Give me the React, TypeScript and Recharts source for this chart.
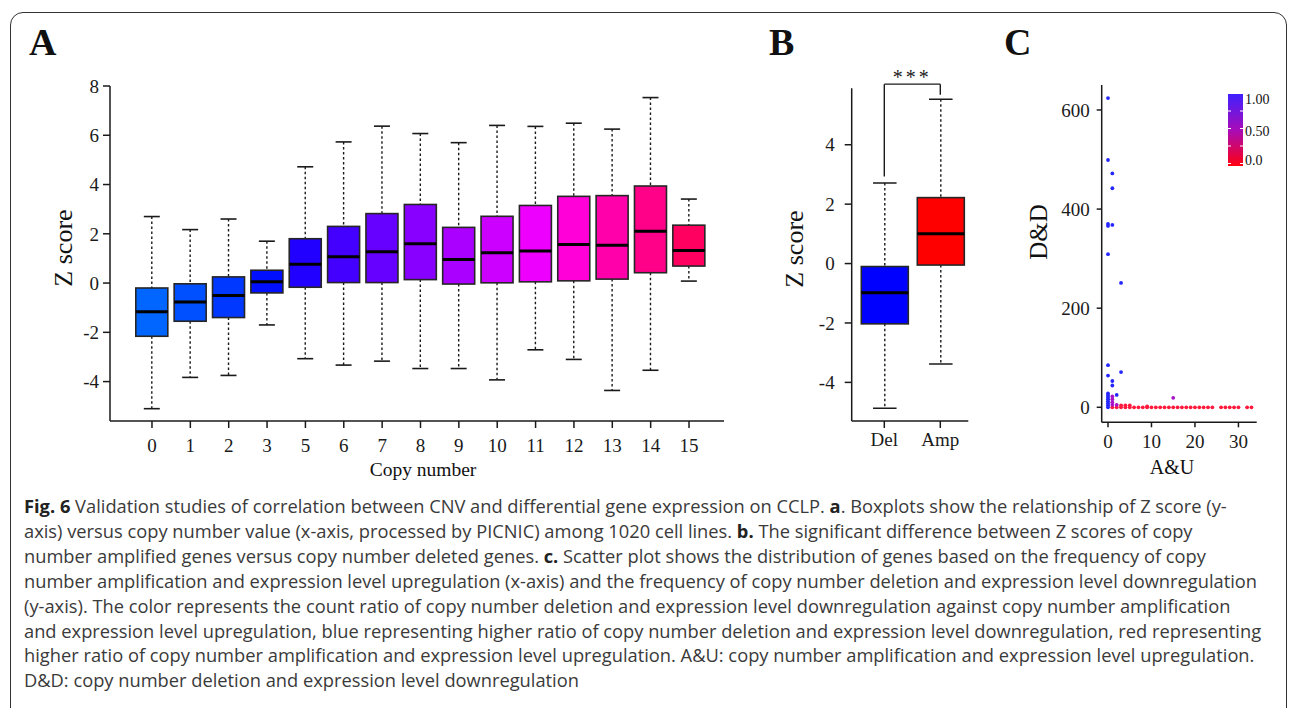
import React from "react";
import {
  ComposedChart,
  Bar,
  XAxis,
  YAxis,
  ReferenceLine,
  ScatterChart,
  Scatter,
} from "recharts";

// ---- Panel A: Z score by copy number ----
const copyNumbers = ["0", "1", "2", "3", "5", "6", "7", "8", "9", "10", "11", "12", "13", "14", "15"];
const whiskerLowA = [-5.1, -3.83, -3.75, -1.7, -3.07, -3.33, -3.17, -3.47, -3.47, -3.93, -2.71, -3.1, -4.36, -3.54, 0.08];
const q1A = [-2.16, -1.55, -1.4, -0.4, -0.17, 0.02, 0.02, 0.14, -0.04, 0.01, 0.05, 0.09, 0.16, 0.42, 0.69];
const medianA = [-1.16, -0.77, -0.5, 0.05, 0.76, 1.07, 1.27, 1.6, 0.96, 1.23, 1.3, 1.57, 1.54, 2.1, 1.32];
const q3A = [-0.2, -0.03, 0.25, 0.52, 1.8, 2.3, 2.82, 3.19, 2.26, 2.71, 3.15, 3.52, 3.55, 3.94, 2.35];
const whiskerHighA = [2.7, 2.17, 2.6, 1.7, 4.72, 5.73, 6.37, 6.07, 5.7, 6.4, 6.36, 6.49, 6.25, 7.53, 3.41];
const yTicksA = [-4, -2, 0, 2, 4, 6, 8];
const boxColorsA = [
  "#0066ff", "#0050ff", "#0038ff", "#0010ff", "#2200ff", "#4400ff", "#6600ff", "#8800ff",
  "#aa00ff", "#cc00ff", "#ee00ff", "#ff00d8", "#ff00aa", "#ff0088", "#ff0060",
];

// ---- Panel B: Del vs Amp ----
const groupsB = ["Del", "Amp"];
const whiskerLowB = [-4.87, -3.38];
const q1B = [-2.03, -0.05];
const medianB = [-0.98, 1.0];
const q3B = [-0.1, 2.22];
const whiskerHighB = [2.71, 5.53];
const yTicksB = [-4, -2, 0, 2, 4];
const boxColorsB = ["#0000ff", "#ff0000"];

// ---- Panel C: D&D vs A&U ----
const delDomX = [0, 0, 1, 1, 0, 0, 1, 0, 3, 0, 0, 3, 1, 1, 2, 0, 0, 0, 0, 0, 0, 0, 0];
const delDomY = [624, 499, 472, 442, 370, 366, 368, 309, 251, 85, 64, 71, 53, 44, 25, 28, 24, 20, 16, 12, 8, 4, 0];
const mixedX = [1, 1, 1, 1, 15, 2];
const mixedY = [22, 16, 10, 5, 19, 5];
const ampDomX = [1, 2, 3, 4, 5, 6, 7, 8, 9, 10, 11, 12, 13, 14, 15, 16, 17, 18, 19, 20, 21, 22, 23, 24, 26, 27, 28, 29, 30, 32, 33, 3, 4, 5, 9];
const ampDomY = [0, 0, 0, 0, 0, 0, 0, 0, 0, 0, 0, 0, 0, 0, 0, 0, 0, 0, 0, 0, 0, 0, 0, 0, 0, 0, 0, 0, 0, 0, 0, 4, 4, 4, 2];
const xTicksC = [0, 10, 20, 30];
const yTicksC = [0, 200, 400, 600];

const rowsA = copyNumbers.map((cn, i) => ({
  cn,
  range: [whiskerLowA[i], whiskerHighA[i]],
  lo: whiskerLowA[i],
  q1: q1A[i],
  med: medianA[i],
  q3: q3A[i],
  hi: whiskerHighA[i],
}));

const rowsB = groupsB.map((g, i) => ({
  g,
  range: [whiskerLowB[i], whiskerHighB[i]],
  lo: whiskerLowB[i],
  q1: q1B[i],
  med: medianB[i],
  q3: q3B[i],
  hi: whiskerHighB[i],
}));

const toPoints = (xs: number[], ys: number[]) => xs.map((x, i) => ({ x, y: ys[i] }));

const SERIF = "'Liberation Serif', 'Times New Roman', serif";
const INK = "#1a1a1a";
const tickStyle = { fill: INK, fontSize: 19, fontFamily: SERIF };

// draws a whole box-and-whisker inside the rect Recharts gives for [lo, hi]
function makeBoxShape(colorOf: (p: any) => string) {
  return (props: any) => {
    const { x, y, width, height, payload } = props;
    const top = Math.min(y, y + height);
    const bottom = Math.max(y, y + height);
    const span = payload.hi - payload.lo;
    const py = (v: number) => top + ((payload.hi - v) / span) * (bottom - top);
    const cx = x + width / 2;
    const cap = width / 4;
    const yq3 = py(payload.q3);
    const yq1 = py(payload.q1);
    return (
      <g>
        <line x1={cx} x2={cx} y1={top} y2={yq3} stroke={INK} strokeWidth={1.4} strokeDasharray="2.5 2.5" />
        <line x1={cx} x2={cx} y1={yq1} y2={bottom} stroke={INK} strokeWidth={1.4} strokeDasharray="2.5 2.5" />
        <line x1={cx - cap} x2={cx + cap} y1={top} y2={top} stroke={INK} strokeWidth={1.6} />
        <line x1={cx - cap} x2={cx + cap} y1={bottom} y2={bottom} stroke={INK} strokeWidth={1.6} />
        <rect x={x} y={yq3} width={width} height={yq1 - yq3} fill={colorOf(payload)} stroke="#262626" strokeWidth={1.6} />
        <line x1={x} x2={x + width} y1={py(payload.med)} y2={py(payload.med)} stroke="#000" strokeWidth={3} />
      </g>
    );
  };
}

const BoxA = makeBoxShape((p) => boxColorsA[copyNumbers.indexOf(p.cn)]);
const BoxB = makeBoxShape((p) => boxColorsB[groupsB.indexOf(p.g)]);

const dot = (fill: string) => (props: any) => (
  <circle cx={props.cx} cy={props.cy} r={1.9} fill={fill} />
);

const captionLines: { t: string; b?: boolean }[][] = [
  [{ t: "Fig. 6", b: true }, { t: " Validation studies of correlation between CNV and differential gene expression on CCLP. " }, { t: "a", b: true }, { t: ". Boxplots show the relationship of Z score (y-" }],
  [{ t: "axis) versus copy number value (x-axis, processed by PICNIC) among 1020 cell lines. " }, { t: "b.", b: true }, { t: " The significant difference between Z scores of copy" }],
  [{ t: "number amplified genes versus copy number deleted genes. " }, { t: "c.", b: true }, { t: " Scatter plot shows the distribution of genes based on the frequency of copy" }],
  [{ t: "number amplification and expression level upregulation (x-axis) and the frequency of copy number deletion and expression level downregulation" }],
  [{ t: "(y-axis). The color represents the count ratio of copy number deletion and expression level downregulation against copy number amplification" }],
  [{ t: "and expression level upregulation, blue representing higher ratio of copy number deletion and expression level downregulation, red representing" }],
  [{ t: "higher ratio of copy number amplification and expression level upregulation. A&U: copy number amplification and expression level upregulation." }],
  [{ t: "D&D: copy number deletion and expression level downregulation" }],
];

export default function App() {
  return (
    <div style={{ position: "absolute", left: 0, top: 0, width: 1290, height: 708, background: "#fff", overflow: "hidden" }}>
      {/* frame */}
      <div style={{ position: "absolute", left: 10, top: 12, width: 1277, height: 740, border: "1.5px solid #333", borderRadius: 13, boxSizing: "border-box" }} />

      {/* A */}
      <div style={{ position: "absolute", left: 0, top: 0 }}>
        <ComposedChart width={760} height={500} data={rowsA} margin={{ top: 86, right: 36, bottom: 49, left: 60 }}>
          <XAxis
            dataKey="cn"
            height={30}
            interval={0}
            padding={{ left: 22.8, right: 15.8 }}
            tick={tickStyle}
            tickSize={7}
            tickMargin={11}
            axisLine={{ stroke: INK, strokeWidth: 1.5 }}
            tickLine={{ stroke: INK, strokeWidth: 1.5 }}
          />
          <YAxis
            type="number"
            width={50}
            domain={[-5.6, 8]}
            allowDataOverflow
            ticks={yTicksA}
            tick={tickStyle}
            tickSize={7}
            tickMargin={4}
            axisLine={{ stroke: INK, strokeWidth: 1.5 }}
            tickLine={{ stroke: INK, strokeWidth: 1.5 }}
          />
          <Bar dataKey="range" barSize={32} shape={BoxA} isAnimationActive={false} />
        </ComposedChart>
      </div>

      {/* B */}
      <div style={{ position: "absolute", left: 760, top: 0 }}>
        <ComposedChart width={230} height={500} data={rowsB} margin={{ top: 88.3, right: 21.7, bottom: 49, left: 51.7 }}>
          <XAxis
            dataKey="g"
            height={30}
            interval={0}
            padding={{ left: 4.6, right: 0 }}
            tick={tickStyle}
            tickSize={7}
            tickMargin={5}
            axisLine={{ stroke: INK, strokeWidth: 1.5 }}
            tickLine={{ stroke: INK, strokeWidth: 1.5 }}
          />
          <YAxis
            type="number"
            width={40}
            domain={[-5.3, 5.9]}
            allowDataOverflow
            ticks={yTicksB}
            tick={tickStyle}
            tickSize={7}
            tickMargin={10}
            axisLine={{ stroke: INK, strokeWidth: 1.5 }}
            tickLine={{ stroke: INK, strokeWidth: 1.5 }}
          />
          <Bar dataKey="range" barSize={47} shape={BoxB} isAnimationActive={false} />
          <ReferenceLine segment={[{ x: "Del", y: 2.93 }, { x: "Del", y: 6.04 }]} ifOverflow="visible" stroke={INK} strokeWidth={1.4} />
          <ReferenceLine segment={[{ x: "Amp", y: 5.68 }, { x: "Amp", y: 6.04 }]} ifOverflow="visible" stroke={INK} strokeWidth={1.4} />
          <ReferenceLine
            segment={[{ x: "Del", y: 6.04 }, { x: "Amp", y: 6.04 }]}
            ifOverflow="visible"
            stroke={INK}
            strokeWidth={1.4}
            label={{ value: "***", position: "top", offset: 0, fill: INK, fontSize: 20, fontFamily: SERIF, letterSpacing: 3 }}
          />
        </ComposedChart>
      </div>

      {/* C */}
      <div style={{ position: "absolute", left: 990, top: 0 }}>
        <ScatterChart width={300} height={500} margin={{ top: 85, right: 33.3, bottom: 47.7, left: 61.7 }}>
          <XAxis
            type="number"
            dataKey="x"
            height={30}
            domain={[-1.45, 34.2]}
            allowDataOverflow
            ticks={xTicksC}
            tick={tickStyle}
            tickSize={5}
            tickMargin={7}
            axisLine={{ stroke: INK, strokeWidth: 1.5 }}
            tickLine={{ stroke: INK, strokeWidth: 1.5 }}
          />
          <YAxis
            type="number"
            dataKey="y"
            width={50}
            domain={[-30.3, 650.4]}
            allowDataOverflow
            ticks={yTicksC}
            tick={tickStyle}
            tickSize={5}
            tickMargin={7}
            axisLine={{ stroke: INK, strokeWidth: 1.5 }}
            tickLine={{ stroke: INK, strokeWidth: 1.5 }}
          />
          <Scatter data={toPoints(ampDomX, ampDomY)} shape={dot("#ff1a3c")} isAnimationActive={false} />
          <Scatter data={toPoints(mixedX, mixedY)} shape={dot("#a814c8")} isAnimationActive={false} />
          <Scatter data={toPoints(delDomX, delDomY)} shape={dot("#2626ff")} isAnimationActive={false} />
        </ScatterChart>
      </div>

      {/* titles, labels, colour bar */}
      <svg width={1290} height={708} style={{ position: "absolute", left: 0, top: 0, pointerEvents: "none" }}>
        <defs>
          <linearGradient id="ratioGrad" x1="0" y1="0" x2="0" y2="1">
            <stop offset="0%" stopColor="#4020ff" />
            <stop offset="50%" stopColor="#a80cb8" />
            <stop offset="100%" stopColor="#ff0010" />
          </linearGradient>
        </defs>
        <g fontFamily={SERIF} fill="#111">
          <text x={29} y={55} fontSize={38} fontWeight="bold">A</text>
          <text x={769} y={55} fontSize={38} fontWeight="bold">B</text>
          <text x={1004} y={55} fontSize={38} fontWeight="bold">C</text>
          <text transform="translate(72,248) rotate(-90)" textAnchor="middle" fontSize={26}>Z score</text>
          <text transform="translate(802.5,249) rotate(-90)" textAnchor="middle" fontSize={26}>Z score</text>
          <text transform="translate(1046.5,232) rotate(-90)" textAnchor="middle" fontSize={25}>D&amp;D</text>
          <text x={423} y={476} textAnchor="middle" fontSize={19.5}>Copy number</text>
          <text x={1172} y={474} textAnchor="middle" fontSize={20}>A&amp;U</text>
          <rect x={1228} y={94} width={15} height={72} fill="url(#ratioGrad)" />
          {[111, 128.5, 146, 163.5].map((yy) => (
            <g key={yy}>
              <line x1={1228} x2={1231} y1={yy} y2={yy} stroke="#fff" strokeWidth={1} />
              <line x1={1240} x2={1243} y1={yy} y2={yy} stroke="#fff" strokeWidth={1} />
            </g>
          ))}
          <text x={1245} y={104} fontSize={14}>1.00</text>
          <text x={1245} y={135.5} fontSize={14}>0.50</text>
          <text x={1245} y={165} fontSize={14}>0.0</text>
        </g>
      </svg>

      {/* caption */}
      <div style={{ position: "absolute", left: 24, top: 494, fontFamily: "'Open Sans', 'Noto Sans', sans-serif", fontSize: 18.3, lineHeight: "24.9px", color: "#3a3a3a", whiteSpace: "nowrap" }}>
        {captionLines.map((line, i) => (
          <div key={i}>
            {line.map((s, j) => (
              <span key={j} style={s.b ? { fontWeight: 700, color: "#222" } : undefined}>{s.t}</span>
            ))}
          </div>
        ))}
      </div>
    </div>
  );
}
